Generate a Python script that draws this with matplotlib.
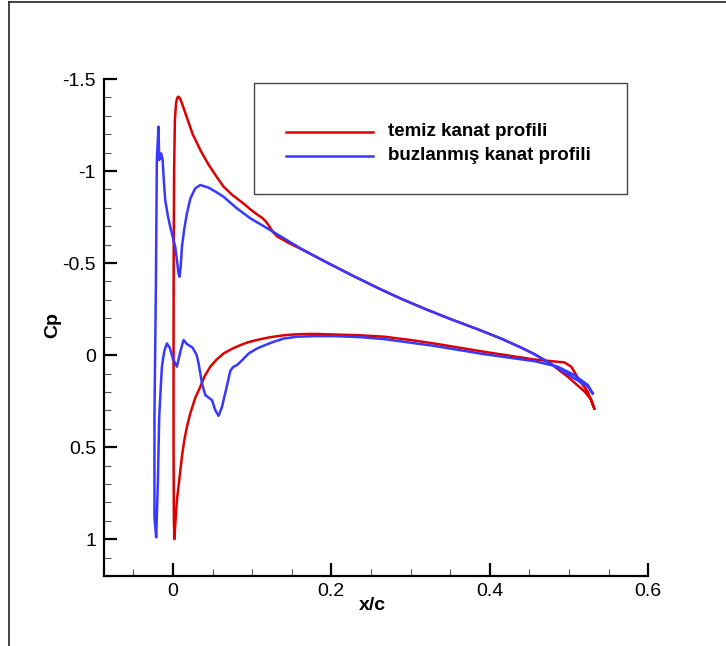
import matplotlib.pyplot as plt
from matplotlib.lines import Line2D
from matplotlib.patches import Rectangle
from matplotlib.ticker import MultipleLocator

plt.rcParams['font.family'] = ['Liberation Sans', 'DejaVu Sans']

# clean airfoil, TE -> lower surface -> LE -> upper surface -> TE
x_clean = [0.532, 0.524, 0.513, 0.503, 0.4945, 0.4565, 0.393, 0.33, 0.3, 0.2666,
           0.235, 0.203, 0.18, 0.161, 0.145, 0.1316, 0.12, 0.106, 0.095, 0.085,
           0.075, 0.064, 0.055, 0.0472, 0.04, 0.0346, 0.028, 0.0219, 0.0177, 0.0145,
           0.0114, 0.008, 0.005, 0.003, 0.0018,
           0.0012, 0.0008, 0.0008, 0.001, 0.0015, 0.0025, 0.004, 0.0055, 0.007, 0.009,
           0.012, 0.0177, 0.025, 0.0346, 0.045, 0.055, 0.064, 0.075, 0.089, 0.0978,
           0.106, 0.1127, 0.117, 0.121, 0.126, 0.1316, 0.145, 0.161, 0.19, 0.2245,
           0.26, 0.2877, 0.32, 0.351, 0.385, 0.4143, 0.44, 0.4565, 0.4776, 0.4987,
           0.52, 0.528, 0.532]
cp_clean = [0.29, 0.20, 0.136, 0.063, 0.04, 0.024, -0.018, -0.063, -0.082, -0.10,
            -0.108, -0.112, -0.115, -0.114, -0.11, -0.103, -0.095, -0.082, -0.07, -0.054,
            -0.035, -0.009, 0.025, 0.063, 0.115, 0.172, 0.235, 0.317, 0.39, 0.46,
            0.55, 0.68, 0.79, 0.92, 1.0,
            0.9, 0.5, 0.0, -0.6, -1.0, -1.28, -1.37, -1.398, -1.404, -1.395,
            -1.36, -1.29, -1.2, -1.114, -1.035, -0.97, -0.915, -0.87, -0.824, -0.792,
            -0.765, -0.745, -0.728, -0.705, -0.67, -0.645, -0.612, -0.578, -0.513, -0.437,
            -0.362, -0.307, -0.248, -0.195, -0.14, -0.09, -0.04, -0.005, 0.048, 0.118,
            0.199, 0.241, 0.29]

# iced airfoil
x_iced = [0.530, 0.524, 0.507, 0.486, 0.4565, 0.393, 0.33, 0.2666, 0.235, 0.203,
          0.18, 0.157, 0.14, 0.127, 0.115, 0.1063, 0.0957, 0.088, 0.081, 0.076,
          0.0725, 0.0684, 0.062, 0.0577, 0.0535, 0.0494, 0.0409, 0.0367, 0.0324, 0.03,
          0.025, 0.0177, 0.0135, 0.01, 0.005, 0.0, -0.004, -0.0076, -0.011, -0.0139,
          -0.0173, -0.019, -0.0211,
          -0.0233, -0.0233, -0.0215, -0.0203, -0.0182, -0.0173, -0.0148, -0.013, -0.0115,
          -0.0097, -0.0065, -0.0034, 0.0029, 0.0055, 0.0071, 0.0084, 0.0098, 0.0114, 0.0145,
          0.0177, 0.022, 0.028, 0.0346, 0.045, 0.055, 0.064, 0.08, 0.0978, 0.123,
          0.161, 0.19, 0.2245, 0.26, 0.2877, 0.32, 0.351, 0.385, 0.4143, 0.44,
          0.4565, 0.4776, 0.507, 0.524, 0.530]
cp_iced = [0.208, 0.163, 0.109, 0.063, 0.033, -0.005, -0.05, -0.087, -0.098, -0.103,
           -0.103, -0.1, -0.09, -0.072, -0.052, -0.036, -0.009, 0.025, 0.054, 0.065,
           0.085, 0.163, 0.281, 0.33, 0.299, 0.245, 0.217, 0.154, 0.045, 0.0,
           -0.04, -0.06, -0.082, -0.03, 0.063, 0.02, -0.04, -0.063, -0.02, 0.063,
           0.335, 0.696, 0.99,
           0.88, 0.335, -0.371, -1.06, -1.241, -1.06, -1.096, -1.06, -0.95,
           -0.842, -0.76, -0.697, -0.589, -0.5, -0.444, -0.426, -0.48, -0.589, -0.69,
           -0.77, -0.85, -0.905, -0.924, -0.91, -0.885, -0.86, -0.80, -0.743, -0.679,
           -0.58, -0.513, -0.437, -0.362, -0.307, -0.248, -0.195, -0.14, -0.09, -0.04,
           -0.005, 0.048, 0.127, 0.172, 0.208]

red = '#dd0000'
blue = '#3838ff'

fig = plt.figure(figsize=(7.26, 6.46), dpi=100)
ax = fig.add_axes([0.1437, 0.1084, 0.749, 0.7693])

ax.plot(x_clean, cp_clean, color=red, lw=1.8, solid_joinstyle='round')
ax.plot(x_iced, cp_iced, color=blue, lw=1.8, solid_joinstyle='round')

ax.set_xlim(-0.0866, 0.6)
ax.set_ylim(1.2, -1.5)

for s in ['top', 'right']:
    ax.spines[s].set_visible(False)
for s in ['left', 'bottom']:
    ax.spines[s].set_linewidth(1.6)

ax.xaxis.set_minor_locator(MultipleLocator(0.05))
ax.yaxis.set_minor_locator(MultipleLocator(0.1))
ax.set_xticks([0, 0.2, 0.4, 0.6])
ax.set_xticklabels(['0', '0.2', '0.4', '0.6'])
ax.set_yticks([-1.5, -1, -0.5, 0, 0.5, 1])
ax.set_yticklabels(['-1.5', '-1', '-0.5', '0', '0.5', '1'])

ax.tick_params(which='major', direction='in', length=9.5, width=1.6, labelsize=14)
ax.tick_params(which='minor', direction='in', length=5, width=0.8, color='#555555')
ax.tick_params(axis='x', which='major', pad=5)
ax.tick_params(axis='y', which='major', pad=6)

fig.text(53 / 726, 1 - 325 / 646, 'Cp', rotation=90, fontsize=14, fontweight='bold',
         ha='center', va='center')
fig.text(372 / 726, 1 - 606 / 646, 'x/c', fontsize=14, fontweight='bold',
         ha='center', va='center')

# legend box
W, H = 726, 646
fig.patches.append(Rectangle((254 / W, 1 - 194 / H), (627 - 254) / W, (194 - 83) / H,
                             transform=fig.transFigure, facecolor='white',
                             edgecolor='#444444', lw=1.0))
labels = ['temiz kanat profili', 'buzlanmış kanat profili']
for lab, col, yy in zip(labels, [red, blue], [131.7, 155.7]):
    fig.add_artist(Line2D([286 / W, 373 / W], [1 - yy / H, 1 - yy / H], color=col, lw=1.8))
    fig.text(388 / W, 1 - yy / H, lab, fontsize=13.5, fontweight='bold', va='center')

# outer frame
fig.add_artist(Line2D([9 / W, 9 / W], [0, 1 - 1.5 / H], color='#222222', lw=1.2))
fig.add_artist(Line2D([9 / W, 1], [1 - 1.5 / H, 1 - 1.5 / H], color='#222222', lw=1.2))

fig.savefig('out.png', dpi=100)
